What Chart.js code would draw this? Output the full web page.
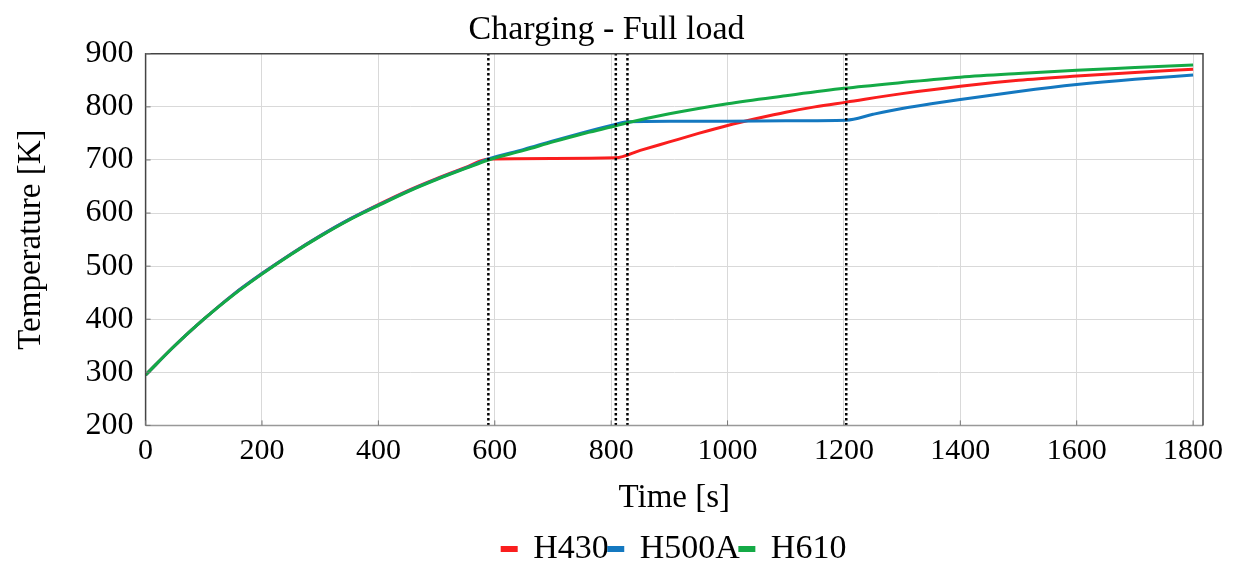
<!DOCTYPE html>
<html>
<head>
<meta charset="utf-8">
<script src="https://cdn.jsdelivr.net/npm/chart.js@4/dist/chart.umd.min.js"></script>
<style>
    body { margin: 0; background: #fff; }
    #wrap { width: 1234px; height: 561px; }
</style>
</head>
<body>
<div id="wrap"><canvas id="chargingChart"></canvas></div>
<script>
// Time [s] and temperature [K]
const timeH430 = [0, 50, 100, 150, 200, 250, 300, 350, 400, 450, 500, 550, 589, 700, 808, 850, 900, 950, 1000, 1050, 1100, 1150, 1204, 1300, 1400, 1500, 1600, 1700, 1800];
const tempH430 = [295, 350, 400, 446, 486, 523, 557, 588, 616, 642, 665, 686, 702, 703, 704, 718, 734, 750, 765, 778, 790, 800, 809, 825, 839, 850, 858, 865, 871];

const timeH500A = [0, 50, 100, 150, 200, 250, 300, 350, 400, 450, 500, 550, 589, 650, 700, 750, 800, 828, 900, 1000, 1100, 1204, 1250, 1300, 1350, 1400, 1500, 1600, 1700, 1800];
const tempH500A = [295, 350, 400, 446, 486, 523, 557, 588, 615, 641, 664, 685, 702, 720, 736, 751, 765, 772, 773, 773, 774, 775, 786, 797, 806, 814, 829, 842, 852, 860];

const timeH610 = [0, 50, 100, 150, 200, 250, 300, 350, 400, 450, 500, 550, 589, 650, 700, 750, 800, 828, 900, 1000, 1100, 1200, 1300, 1400, 1500, 1600, 1700, 1800];
const tempH610 = [295, 350, 400, 445, 485, 522, 556, 587, 614, 640, 663, 684, 700, 718, 734, 749, 762, 770, 787, 806, 821, 835, 846, 856, 863, 869, 874, 879];

// phase change markers (dotted lines)
const markerTimes = [589, 808, 828, 1204];

const xTicks = [0, 200, 400, 600, 800, 1000, 1200, 1400, 1600, 1800];
const yTicks = [200, 300, 400, 500, 600, 700, 800, 900];

const serif = "'Liberation Serif', 'Times New Roman', serif";

function toPoints(xs, ys) {
    return xs.map((x, i) => ({ x: x, y: ys[i] }));
}

let datasets = [
    { label: 'H430', data: toPoints(timeH430, tempH430), borderColor: '#fa1e1e', backgroundColor: '#fa1e1e', order: 2 },
    { label: 'H500A', data: toPoints(timeH500A, tempH500A), borderColor: '#1478c0', backgroundColor: '#1478c0', order: 1 },
    { label: 'H610', data: toPoints(timeH610, tempH610), borderColor: '#14aa46', backgroundColor: '#14aa46', order: 0 }
].map(d => Object.assign(d, { borderWidth: 3, pointRadius: 0, cubicInterpolationMode: 'monotone', fill: false }));

markerTimes.forEach(t => {
    datasets.push({
        label: 'marker',
        data: [{ x: t, y: yTicks[0] }, { x: t, y: yTicks[yTicks.length - 1] }],
        borderColor: '#000',
        borderWidth: 2.5,
        borderDash: [2.5, 2.5],
        pointRadius: 0,
        order: -1
    });
});

// box round the plot plus small inward ticks
const frame = {
    id: 'frame',
    afterLayout(chart) {
        // centre the legend under the plot area, not the whole canvas
        let lg = chart.legend, a = chart.chartArea;
        if (lg) { lg.left = a.left; lg.right = a.right; }
    },
    afterDatasetsDraw(chart) {
        let a = chart.chartArea, ctx = chart.ctx;
        ctx.save();
        ctx.lineWidth = 1.5;
        ctx.strokeStyle = '#999';
        ctx.beginPath();
        ctx.moveTo(a.left, a.bottom); ctx.lineTo(a.right, a.bottom);
        ctx.stroke();
        ctx.strokeStyle = '#444';
        ctx.beginPath();
        ctx.moveTo(a.left, a.bottom); ctx.lineTo(a.left, a.top);
        ctx.lineTo(a.right, a.top); ctx.lineTo(a.right, a.bottom);
        ctx.stroke();
        ctx.lineWidth = 1;
        ctx.strokeStyle = '#777';
        ctx.beginPath();
        xTicks.forEach(v => {
            let px = chart.scales.x.getPixelForValue(v);
            ctx.moveTo(px, a.bottom); ctx.lineTo(px, a.bottom - 5);
        });
        yTicks.forEach(v => {
            let py = chart.scales.y.getPixelForValue(v);
            ctx.moveTo(a.left, py); ctx.lineTo(a.left + 5, py);
        });
        ctx.stroke();
        ctx.restore();
    }
};

new Chart(document.getElementById('chargingChart'), {
    type: 'line',
    data: { datasets: datasets },
    options: {
        responsive: true,
        maintainAspectRatio: false,
        animation: false,
        layout: { padding: { left: 10, right: 31, top: 0, bottom: -15 } },
        scales: {
            x: {
                type: 'linear',
                min: 0,
                max: 1817,
                afterBuildTicks: s => { s.ticks = xTicks.map(v => ({ value: v })); },
                grid: { color: '#d9d9d9', drawTicks: false },
                border: { display: false },
                ticks: { color: '#000', padding: 8, maxRotation: 0, callback: v => String(v), font: { family: serif, size: 30 } },
                title: { display: true, text: 'Time [s]', color: '#000', padding: { top: 1, bottom: 14 }, font: { family: serif, size: 33 } }
            },
            y: {
                min: 200,
                max: 900,
                afterBuildTicks: s => { s.ticks = yTicks.map(v => ({ value: v })); },
                grid: { color: '#d9d9d9', drawTicks: false },
                border: { display: false },
                ticks: { color: '#000', padding: 12, callback: v => String(v), font: { family: serif, size: 32 } },
                title: { display: true, text: 'Temperature [K]', color: '#000', padding: { top: 2, bottom: 22 }, font: { family: serif, size: 33 } }
            }
        },
        plugins: {
            title: {
                display: true,
                text: 'Charging - Full load',
                color: '#000',
                padding: { top: 10, bottom: 3 },
                font: { family: serif, size: 34, weight: 'normal' }
            },
            legend: {
                position: 'bottom',
                labels: {
                    color: '#000',
                    boxWidth: 14,
                    boxHeight: 3,
                    padding: 0,
                    font: { family: serif, size: 34 },
                    filter: item => item.text !== 'marker',
                    sort: (a, b) => a.datasetIndex - b.datasetIndex
                }
            },
            tooltip: { enabled: false }
        }
    },
    plugins: [frame]
});
</script>
</body>
</html>
